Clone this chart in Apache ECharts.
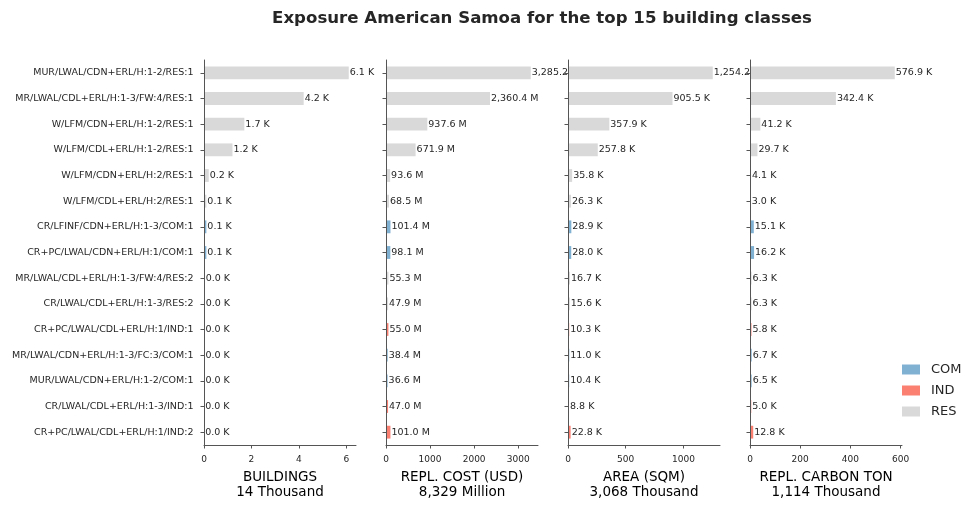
<!DOCTYPE html>
<html>
<head>
<meta charset="utf-8">
<script src="https://cdn.jsdelivr.net/npm/echarts@6/dist/echarts.min.js"></script>
<style>
  html, body { margin: 0; padding: 0; background: #fff; }
  #chart { width: 979px; height: 510px; }
</style>
</head>
<body>
<div id="chart"></div>
<script>
'use strict';

// top 15 building classes, top to bottom
const categories = [
    'MUR/LWAL/CDN+ERL/H:1-2/RES:1',
    'MR/LWAL/CDL+ERL/H:1-3/FW:4/RES:1',
    'W/LFM/CDN+ERL/H:1-2/RES:1',
    'W/LFM/CDL+ERL/H:1-2/RES:1',
    'W/LFM/CDN+ERL/H:2/RES:1',
    'W/LFM/CDL+ERL/H:2/RES:1',
    'CR/LFINF/CDN+ERL/H:1-3/COM:1',
    'CR+PC/LWAL/CDN+ERL/H:1/COM:1',
    'MR/LWAL/CDL+ERL/H:1-3/FW:4/RES:2',
    'CR/LWAL/CDL+ERL/H:1-3/RES:2',
    'CR+PC/LWAL/CDL+ERL/H:1/IND:1',
    'MR/LWAL/CDN+ERL/H:1-3/FC:3/COM:1',
    'MUR/LWAL/CDN+ERL/H:1-2/COM:1',
    'CR/LWAL/CDL+ERL/H:1-3/IND:1',
    'CR+PC/LWAL/CDL+ERL/H:1/IND:2'
];
const occupancy = ['RES', 'RES', 'RES', 'RES', 'RES', 'RES', 'COM', 'COM',
    'RES', 'RES', 'IND', 'COM', 'COM', 'IND', 'IND'];

const buildings = [6.1, 4.2, 1.7, 1.2, 0.2, 0.1, 0.1, 0.1, 0.03, 0.03, 0.02, 0.02, 0.02, 0.01, 0.01]; // thousand
const replCost = [3285.2, 2360.4, 937.6, 671.9, 93.6, 68.5, 101.4, 98.1, 55.3, 47.9, 55.0, 38.4, 36.6, 47.0, 101.0]; // million
const area = [1254.2, 905.5, 357.9, 257.8, 35.8, 26.3, 28.9, 28.0, 16.7, 15.6, 10.3, 11.0, 10.4, 8.8, 22.8]; // thousand
const carbon = [576.9, 342.4, 41.2, 29.7, 4.1, 3.0, 15.1, 16.2, 6.3, 6.3, 5.8, 6.7, 6.5, 5.0, 12.8]; // thousand

const panelNames = ['BUILDINGS\n14 Thousand', 'REPL. COST (USD)\n8,329 Million',
    'AREA (SQM)\n3,068 Thousand', 'REPL. CARBON TON\n1,114 Thousand'];
const panelUnits = ['K', 'M', 'K', 'K'];
const panelTicks = [[0, 2, 4, 6], [0, 1000, 2000, 3000], [0, 500, 1000], [0, 200, 400, 600]];
const panelValues = [buildings, replCost, area, carbon];

const classes = ['COM', 'IND', 'RES'];
const classColors = {COM: '#80b1d3', IND: '#fb8072', RES: '#d9d9d9'};

const textColor = '#262626';
const spineColor = '#555';
const gridLefts = [204, 386, 568, 750];
const gridWidth = 152;

const fmt = (v, unit) => v.toLocaleString('en-US', {minimumFractionDigits: 1, maximumFractionDigits: 1}) + ' ' + unit;

const grids = [], xAxes = [], yAxes = [], series = [];
panelValues.forEach((vals, p) => {
    // later panels sit on top so they hide the overflowing labels of the one before
    grids.push({
        left: gridLefts[p], width: gridWidth, top: 60, bottom: 65,
        show: true, backgroundColor: '#fff', borderWidth: 0, z: p * 10
    });
    const ticks = panelTicks[p];
    xAxes.push({
        type: 'value', gridIndex: p, min: 0, max: Math.max(...vals) * 1.05,
        z: p * 10 + 3,
        name: panelNames[p], nameLocation: 'middle', nameGap: 25,
        nameTextStyle: {fontSize: 13.5, color: '#000', lineHeight: 15, fontFamily: 'DejaVu Sans'},
        axisLine: {show: true, lineStyle: {color: spineColor, width: 1}},
        axisTick: {show: true, length: 3.5, customValues: ticks, lineStyle: {color: spineColor}},
        axisLabel: {
            customValues: ticks, fontSize: 9, color: textColor, margin: 10, fontFamily: 'DejaVu Sans',
            formatter: v => String(v)
        },
        splitLine: {show: false}
    });
    yAxes.push({
        type: 'category', gridIndex: p, data: categories, inverse: true,
        z: p * 10 + 3,
        axisLine: {show: true, lineStyle: {color: spineColor, width: 1}},
        axisTick: {show: true, length: 3.5, alignWithLabel: true, lineStyle: {color: spineColor}},
        axisLabel: {show: p === 0, fontSize: 9.5, color: textColor, margin: 10.5, fontFamily: 'DejaVu Sans'}
    });
    classes.forEach(cls => {
        series.push({
            name: cls, type: 'bar', xAxisIndex: p, yAxisIndex: p,
            stack: 'panel' + p, barWidth: '50%', z: p * 10 + 2,
            itemStyle: {color: classColors[cls]},
            label: {
                show: true, position: 'right', distance: 1,
                fontSize: 9.5, color: textColor, fontFamily: 'DejaVu Sans',
                formatter: d => fmt(d.value, panelUnits[p])
            },
            data: vals.map((v, i) => occupancy[i] === cls ? v : null)
        });
    });
});

const chart = echarts.init(document.getElementById('chart'));
chart.setOption({
    animation: false,
    textStyle: {fontFamily: 'DejaVu Sans'},
    title: {
        text: 'Exposure American Samoa for the top 15 building classes',
        left: 537, top: 5, textAlign: 'center',
        textStyle: {fontSize: 16.6, fontWeight: 'bold', color: textColor, fontFamily: 'DejaVu Sans'}
    },
    legend: {
        data: classes, orient: 'vertical', left: 893, top: 363, padding: 0,
        icon: 'path://M0 0H27V10H0Z', itemWidth: 27, itemHeight: 10, itemGap: 8,
        textStyle: {fontSize: 13, color: textColor, fontFamily: 'DejaVu Sans', padding: [0, 0, 0, 6]}
    },
    grid: grids,
    xAxis: xAxes,
    yAxis: yAxes,
    series: series
});
</script>
</body>
</html>
